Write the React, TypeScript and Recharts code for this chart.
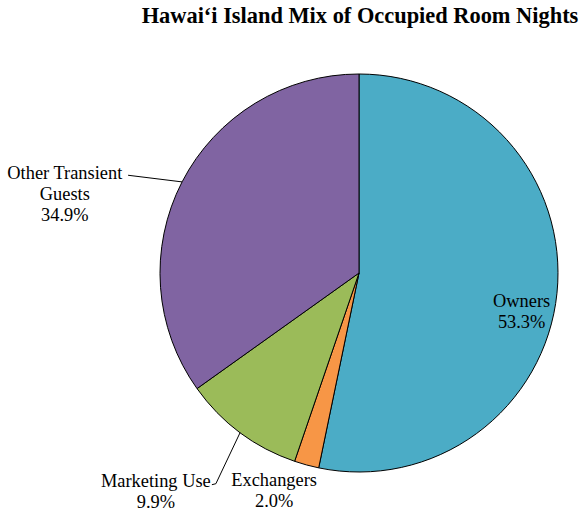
import { PieChart, Pie, Cell } from "recharts";

const categories = ["Owners", "Exchangers", "Marketing Use", "Other Transient Guests"];
const shares = [53.3, 2.0, 9.9, 34.9];
const colors = ["#4BACC6", "#F79646", "#9BBB59", "#8064A2"];

// label text lines per slice
const labelLines = [["Owners"], ["Exchangers"], ["Marketing Use"], ["Other Transient", "Guests"]];

// label placement: radius factor and angle shift from slice mid-angle
const labelPlace = [
  { r: 0.84, shift: -7.5, line: null },
  { r: 1.175, shift: -6, line: null },
  { r: 1.5, shift: -6.2, line: { r: 1.28, shift: 2.5, hook: true } },
  { r: 1.53, shift: 12.3, line: { r: 1.26, shift: 4.3, hook: false } },
];

const data = categories.map((name, i) => ({ name, value: shares[i] }));

const RAD = Math.PI / 180;
const FONT = "Liberation Serif, Times New Roman, serif";

function renderLabel(props: any) {
  const { cx, cy, midAngle, outerRadius, index } = props;
  const place = labelPlace[index];
  const ang = (midAngle + place.shift) * RAD;
  const x = cx + outerRadius * place.r * Math.cos(ang);
  const y = cy - outerRadius * place.r * Math.sin(ang);
  const lines = [...labelLines[index], `${shares[index].toFixed(1)}%`];
  const lh = 21;
  const top = y - ((lines.length - 1) * lh) / 2;

  let leader = null;
  if (place.line) {
    const sx = cx + outerRadius * Math.cos(midAngle * RAD);
    const sy = cy - outerRadius * Math.sin(midAngle * RAD);
    const ea = (midAngle + place.line.shift) * RAD;
    const ex = cx + outerRadius * place.line.r * Math.cos(ea);
    const ey = cy - outerRadius * place.line.r * Math.sin(ea);
    const d = place.line.hook
      ? `M${sx},${sy} L${ex},${ey} L${ex - 4},${ey + 1}`
      : `M${sx},${sy} L${ex},${ey}`;
    leader = <path d={d} stroke="#000" strokeWidth={1} fill="none" />;
  }

  return (
    <g>
      {leader}
      <text
        x={x}
        y={top}
        textAnchor="middle"
        dominantBaseline="central"
        fontFamily={FONT}
        fontSize={18.4}
        style={{ fontFamily: FONT, fontSize: 18.4 }}
        fill="#000"
      >
        {lines.map((t, i) => (
          <tspan key={i} x={x} dy={i === 0 ? 0 : lh}>
            {t}
          </tspan>
        ))}
      </text>
    </g>
  );
}

export default function App() {
  return (
    <div
      style={{
        position: "relative",
        width: 586,
        height: 514,
        background: "#fff",
        fontFamily: FONT,
      }}
    >
      <style>{`body{margin:0}`}</style>
      <div
        style={{
          position: "absolute",
          left: 0,
          top: 3,
          width: 720,
          textAlign: "center",
          fontWeight: "bold",
          fontSize: 22.4,
          color: "#000",
          whiteSpace: "nowrap",
        }}
      >
        Hawai‘i Island Mix of Occupied Room Nights
      </div>
      <PieChart width={586} height={514} margin={{ top: 0, right: 0, bottom: 0, left: 0 }}>
        <Pie
          data={data}
          dataKey="value"
          nameKey="name"
          cx={359}
          cy={273}
          outerRadius={199}
          startAngle={90}
          endAngle={-270}
          stroke="#000"
          strokeWidth={1}
          label={renderLabel}
          labelLine={false}
          isAnimationActive={false}
        >
          {data.map((d, i) => (
            <Cell key={d.name} fill={colors[i]} />
          ))}
        </Pie>
      </PieChart>
    </div>
  );
}
